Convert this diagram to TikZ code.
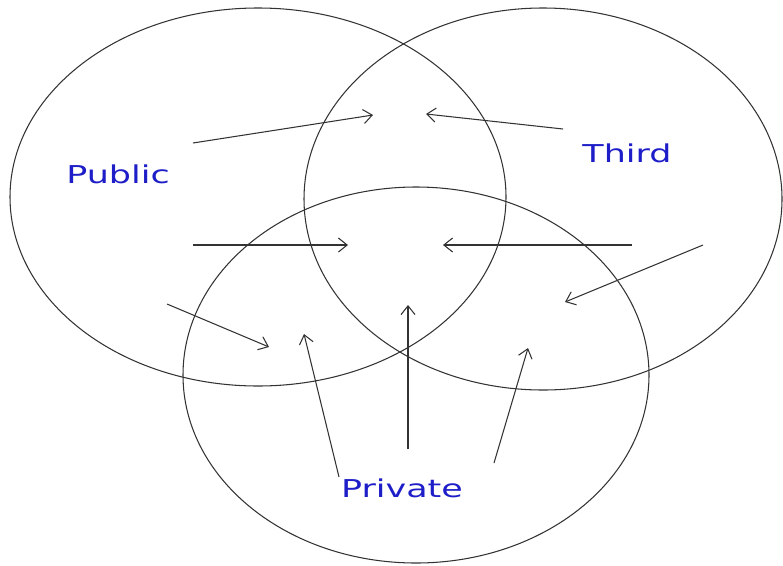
\documentclass[tikz,border=0pt]{standalone}
\usepackage{fontspec}
\usepackage{xcolor}
\usetikzlibrary{arrows.meta}
\newfontfamily\labelfont{DejaVu Sans}
\definecolor{set-blue}{HTML}{1E1EC8}
\definecolor{set-line}{HTML}{333333}

\begin{document}
\begin{tikzpicture}[x=0.02cm, y=-0.02cm,
        every node/.style={font=\labelfont\fontsize{14}{16}\selectfont},
        setlabel/.style={text=set-blue, xscale=1.42, inner sep=0pt},
        flow/.style={draw=set-line, line width=0.6pt,
          -{Straight Barb[length=5pt, width=8pt]}}]
      \useasboundingbox (0,0) rectangle (783,565);
      % the three sets
      \draw[set-line, line width=0.6pt] (258,197) ellipse [x radius=248, y radius=189];
      \draw[set-line, line width=0.6pt] (543,199) ellipse [x radius=239, y radius=191];
      \draw[set-line, line width=0.6pt] (416,375) ellipse [x radius=233, y radius=188];
      \node[setlabel] (public) at (118,174) {Public};
      \node[setlabel] (third) at (627,153) {Third};
      \node[setlabel] (private) at (402,488) {Private};
      % arrow ends
      \coordinate (pub-a) at (193,143);  \coordinate (pt-in) at (373,115);
      \coordinate (thi-a) at (563,129);  \coordinate (tp-in) at (426,114);
      \coordinate (pub-b) at (193,245);  \coordinate (all-l) at (348,245);
      \coordinate (thi-b) at (632,245);  \coordinate (all-r) at (443,245);
      \coordinate (thi-c) at (703,245);  \coordinate (tv-in) at (565,302);
      \coordinate (pub-c) at (167,304);  \coordinate (pv-in) at (269,347);
      \coordinate (pri-a) at (339,477);  \coordinate (vp-in) at (304,334);
      \coordinate (pri-b) at (408,449);  \coordinate (all-b) at (408,305);
      \coordinate (pri-c) at (494,463);  \coordinate (vt-in) at (528,348);
      % flows into the overlaps
      \draw[flow] (pub-a) -- (pt-in);
      \draw[flow] (thi-a) -- (tp-in);
      \draw[flow] (pub-b) -- (all-l);
      \draw[flow] (thi-b) -- (all-r);
      \draw[flow] (thi-c) -- (tv-in);
      \draw[flow] (pub-c) -- (pv-in);
      \draw[flow] (pri-a) -- (vp-in);
      \draw[flow] (pri-b) -- (all-b);
      \draw[flow] (pri-c) -- (vt-in);
    \end{tikzpicture}
\end{document}
